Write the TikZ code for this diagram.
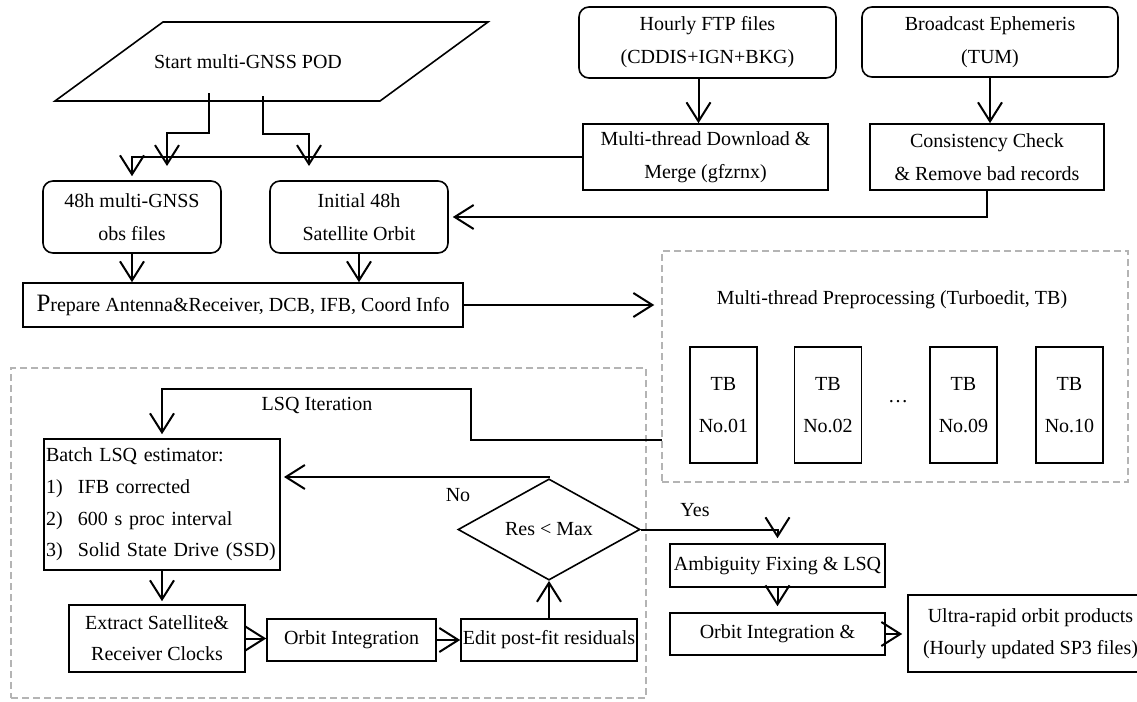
\documentclass[tikz,border=0pt]{standalone}
\usepackage{fontspec}
\setmainfont{Liberation Serif}
\usetikzlibrary{arrows.meta,shapes.geometric,calc}
\definecolor{dashgray}{HTML}{B4B4B4}
\begin{document}
\begin{tikzpicture}[x=1pt,y=-1pt,
  every node/.style={font=\fontsize{20}{33}\selectfont, inner sep=0pt, align=center},
  rbox/.style={draw, line width=1.6pt, rounded corners=10pt},
  sbox/.style={draw, line width=1.6pt},
  tbbox/.style={draw, line width=1.6pt, minimum width=67pt, minimum height=116pt, font=\fontsize{20}{42}\selectfont},
  conn/.style={line width=2pt, -{Straight Barb[length=19pt,width=24pt,line width=2pt]}},
  dbox/.style={draw=dashgray, line width=1.5pt, dash pattern=on 7pt off 4pt},
  lbl/.style={font=\fontsize{20}{24}\selectfont}
]
\useasboundingbox (0,0) rectangle (1137,701);
\fill[white] (0,0) rectangle (1137,701);

% start parallelogram
\draw[line width=1.6pt] (55,101) -- (163,22) -- (488,22) -- (380,101) -- cycle;
\node (start) at (248,62) {Start multi-GNSS POD};
\coordinate (s1) at (209,93);
\coordinate (s2) at (263,96);
\coordinate (t1) at (167,166);
\coordinate (t2) at (309,166);

% top right sources
\node[rbox, minimum width=257pt, minimum height=71pt] (ftp) at (707.5,42.5) {Hourly FTP files\\(CDDIS+IGN+BKG)};
\node[rbox, minimum width=256pt, minimum height=70pt] (brd) at (990,42) {Broadcast Ephemeris\\(TUM)};
\node[sbox, minimum width=245pt, minimum height=66pt] (mtd) at (705.5,157) {Multi-thread Download \&\\Merge (gfzrnx)};
\node[sbox, minimum width=234pt, minimum height=66pt] (cons) at (987,157) {Consistency Check\\\& Remove bad records};

% inputs
\node[rbox, minimum width=178pt, minimum height=72pt] (obs) at (132,217) {48h multi-GNSS\\obs files};
\node[rbox, minimum width=178pt, minimum height=72pt] (ini) at (359,217) {Initial 48h\\Satellite Orbit};
\node[sbox, minimum width=440pt, minimum height=44pt] (prep) at (243,305) {{\fontsize{25}{25}\selectfont P}repare Antenna\&Receiver, DCB, IFB, Coord Info};

% preprocessing
\node[dbox, minimum width=466pt, minimum height=231pt] (prebox) at (895,366.5) {};
\node (pretitle) at (892,300) {Multi-thread Preprocessing (Turboedit, TB)};
\node[tbbox] (tb1) at (723.5,405) {TB\\No.01};
\node[tbbox] (tb2) at (828,405) {TB\\No.02};
\node[tbbox] (tb3) at (963.5,405) {TB\\No.09};
\node[tbbox] (tb4) at (1069.5,405) {TB\\No.10};
\node (dots) at (898,402) {\dots};

% LSQ loop
\node[dbox, minimum width=635pt, minimum height=330pt] (lsqbox) at (328.5,533) {};
\node[sbox, minimum width=236pt, minimum height=131pt, text width=232pt, align=left, inner xsep=2pt, font=\fontsize{20}{31.7}\selectfont] (batch) at (162,504.5)
  {Batch LSQ estimator:\\\makebox[32pt][l]{1)}IFB corrected\\\makebox[32pt][l]{2)}600 s proc interval\\\makebox[32pt][l]{3)}Solid State Drive (SSD)};
\node[draw, diamond, line width=1.6pt, minimum width=182pt, minimum height=79pt] (dia) at (549,529.5) {Res < Max};
\node[sbox, minimum width=176pt, minimum height=67pt, font=\fontsize{20}{31}\selectfont] (ext) at (157,638.5) {Extract Satellite\&\\Receiver Clocks};
\node[sbox, minimum width=169pt, minimum height=42pt] (oi) at (351.5,640) {Orbit Integration};
\node[sbox, minimum width=176pt, minimum height=42pt] (edit) at (549,640) {Edit post-fit residuals};

% final products
\node[sbox, minimum width=215pt, minimum height=43pt] (amb) at (777.5,565.5) {Ambiguity Fixing \& LSQ};
\node[sbox, minimum width=215pt, minimum height=42pt] (oi2) at (777.5,634) {Orbit Integration \&};
\node[sbox, minimum width=245pt, minimum height=77pt, font=\fontsize{20}{32}\selectfont] (ultra) at (1030.5,633.5) {Ultra-rapid orbit products\\(Hourly updated SP3 files)};

% labels
\node[lbl] (lsqlbl) at (317,405) {LSQ Iteration};
\node[lbl] (nolbl) at (458,495) {No};
\node[lbl] (yeslbl) at (695,510) {Yes};

% connectors
\draw[conn] (s1) -- ++(0,40) -| (t1);
\draw[conn] (s2) -- ++(0,38) -| (t2);
\draw[conn] (mtd.west) -| ([yshift=4pt]obs.north);
\draw[conn] ([xshift=-9pt]ftp.south) -- ([xshift=-9pt]ftp.south |- mtd.north);
\draw[conn] (brd.south) -- (brd.south |- cons.north);
\draw[conn] (cons.south) |- ([xshift=4pt]ini.east);
\draw[conn] (obs.south) -- (obs.south |- prep.north);
\draw[conn] (ini.south) -- (ini.south |- prep.north);
\draw[conn] (prep.east) -- ([xshift=-7pt]prebox.west |- prep.east);
\coordinate (lsqs) at (662,440);
\draw[conn] (lsqs) -- (471,440) -- (471,389) -| ([yshift=4pt]batch.north);
\coordinate (noend) at (284,477);
\draw[conn] (dia.north) |- (noend);
\draw[conn] (dia.east) -| ([yshift=5pt]amb.north);
\draw[conn] (batch.south) -- ([yshift=3pt]batch.south |- ext.north);
\draw[conn] (ext.east) -- (ext.east -| oi.west);
\draw[conn] (oi.east) -- (edit.west);
\draw[conn] (edit.north) -- (dia.south);
\draw[conn] (amb.south) -- ([yshift=6pt]oi2.north);
\draw[conn] (oi2.east) -- ([xshift=-5pt]oi2.east -| ultra.west);
\end{tikzpicture}
\end{document}
